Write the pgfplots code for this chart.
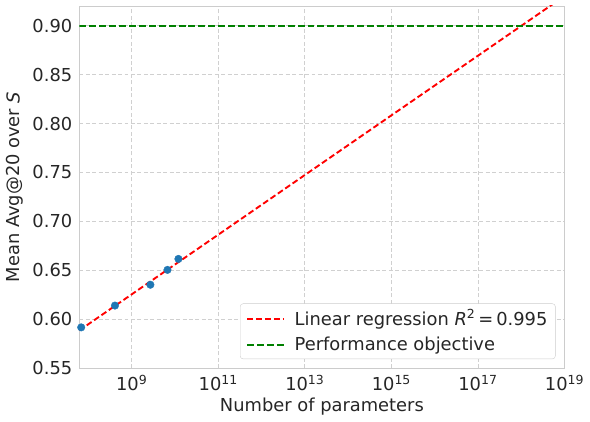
\documentclass[border=0pt]{standalone}
\usepackage{fontspec}
\setmainfont{DejaVu Sans}
\usepackage{pgfplots}
\pgfplotsset{compat=1.18}
\usetikzlibrary{calc}
\definecolor{txt}{HTML}{262626}
\definecolor{spine}{HTML}{CCCCCC}
\definecolor{gridc}{HTML}{D0D0D0}
\definecolor{ptblue}{HTML}{1F77B4}
\definecolor{objgreen}{HTML}{008000}

\begin{document}
\fontsize{18}{21}\selectfont
\begin{tikzpicture}
\begin{axis}[name=ax, scale only axis, width=489pt, height=365pt,
  xmode=log, xmin=6.17e7, xmax=1e19, ymin=0.55, ymax=0.9203,
  xtick={1e9,1e11,1e13,1e15,1e17,1e19},
  xticklabels={10\textsuperscript{9},10\textsuperscript{11},10\textsuperscript{13},10\textsuperscript{15},10\textsuperscript{17},10\textsuperscript{19}},
  ytick={0.55,0.60,0.65,0.70,0.75,0.80,0.85,0.90},
  yticklabel style={/pgf/number format/fixed, /pgf/number format/fixed zerofill, /pgf/number format/precision=2},
  /pgf/number format/assume math mode=true,
  minor tick num=0,
  major tick length=0pt, minor tick length=0pt,
  axis line style={spine, line width=0.9pt},
  grid=major, major grid style={gridc, line width=0.8pt, dash pattern=on 4pt off 2.5pt},
  tick label style={font=\fontsize{18}{21}\selectfont, text=txt},
  label style={font=\fontsize{18}{21}\selectfont, text=txt},
  xticklabel style={yshift=-1pt}, yticklabel style={xshift=-1pt},
  xlabel={Number of parameters}, ylabel={Mean Avg@20 over \textit{S}},
  xlabel style={yshift=5pt}, ylabel style={yshift=-3pt},
  legend style={at={(1,0)}, anchor=south east, xshift=-9pt, yshift=9pt,
    draw=spine, fill=white, rounded corners=3pt,
    font=\fontsize{18}{21}\selectfont, text=txt,
    inner xsep=6pt, inner ysep=4pt, row sep=5pt,
    legend cell align=left},
  legend image code/.code={\draw[#1] (0pt,0pt) -- (37pt,0pt);},
  clip=true]
  \addlegendimage{red, line width=1.9pt, dash pattern=on 6pt off 3pt}
  \addlegendentry{\hspace{8pt}Linear regression \textit{R}\textsuperscript{2}\,=\,0.995}
  \addlegendimage{objgreen, line width=1.9pt, dash pattern=on 7pt off 3pt}
  \addlegendentry{\hspace{8pt}Performance objective}
  \addplot[only marks, mark=*, mark size=3.8pt, color=ptblue, forget plot]
    coordinates {(6.8e7,0.5916) (4.1e8,0.6139) (2.7e9,0.6352) (6.7e9,0.6504) (1.2e10,0.6616)};
  \addplot[red, line width=1.9pt, dash pattern=on 6pt off 3pt, forget plot]
    coordinates {(6.17e7,0.5885) (1e19,0.9304)};
  \addplot[objgreen, line width=1.9pt, dash pattern=on 7pt off 3pt, forget plot]
    coordinates {(6.17e7,0.90) (1e19,0.90)};
\end{axis}
\path ($(ax.south west)+(-80pt,-54pt)$) rectangle ($(ax.north east)+(21pt,6pt)$);
\end{tikzpicture}
\end{document}
